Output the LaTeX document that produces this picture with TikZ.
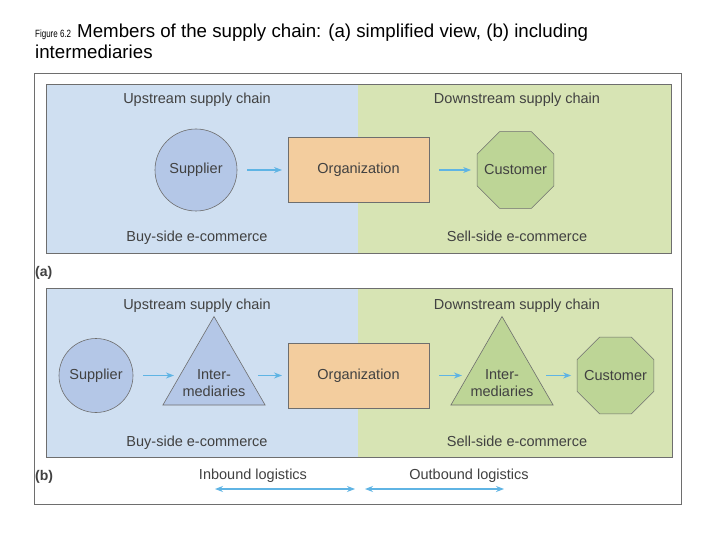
\documentclass[tikz,border=0pt]{standalone}
\usepackage{fontspec}
\setmainfont{Liberation Sans}
\usetikzlibrary{shapes.geometric,arrows.meta}
\definecolor{upblue}{RGB}{207,223,241}
\definecolor{downgreen}{RGB}{215,228,180}
\definecolor{supblue}{RGB}{180,199,231}
\definecolor{orgorange}{RGB}{243,205,158}
\definecolor{custgreen}{RGB}{189,213,150}
\definecolor{flowblue}{RGB}{95,180,228}
\definecolor{txtgray}{RGB}{65,65,65}
\definecolor{linegray}{RGB}{110,110,110}
\begin{document}
\begin{tikzpicture}[x=1pt,y=-1pt,
  lbl/.style={text=txtgray,font=\fontsize{14.5}{17}\selectfont,inner sep=0pt,anchor=base},
  tag/.style={font=\bfseries\fontsize{14}{16}\selectfont,text=txtgray,inner sep=0pt,anchor=base west},
  shapetxt/.style={text=txtgray,font=\fontsize{14.5}{17}\selectfont,inner sep=0pt,outer sep=0pt,align=center},
  supplier/.style={shapetxt,circle,draw=linegray,line width=0.6pt,fill=supblue},
  org/.style={shapetxt,rectangle,draw=linegray,line width=0.6pt,fill=orgorange,minimum width=141pt,minimum height=65pt},
  customer/.style={regular polygon,regular polygon sides=8,minimum size=83pt,inner sep=0pt,outer sep=0pt,draw=linegray,line width=0.6pt,fill=custgreen},
  middle/.style={regular polygon,regular polygon sides=3,minimum size=118pt,inner sep=0pt,outer sep=0pt,draw=linegray,line width=0.6pt},
  flow/.style={-{Stealth[length=8pt,width=6pt]},draw=flowblue,line width=1.2pt,shorten <=10pt,shorten >=6pt},
  logi/.style={{Stealth[length=8pt,width=6pt]}-{Stealth[length=8pt,width=6pt]},draw=flowblue,line width=1.2pt}]
\useasboundingbox (0,0) rectangle (720,540);
\fill[white] (0,0) rectangle (720,540);

% title
\node[anchor=base west,inner sep=0pt,font=\fontsize{10.5}{12}\selectfont] (fignum) at (35,38) {\scalebox{0.76}[1]{Figure 6.2}};
\node[anchor=base west,inner sep=0pt,font=\fontsize{18.7}{22}\selectfont] (title1) at (77,38) {Members of the supply chain: (a) simplified view, (b) including};
\node[anchor=base west,inner sep=0pt,font=\fontsize{18.7}{22}\selectfont] (title2) at (35,59) {intermediaries};

\draw[linegray,line width=0.8pt] (34,73) rectangle (681,504);

% (a) simplified view
\fill[upblue] (46,84) rectangle (358,253);
\fill[downgreen] (358,84) rectangle (671,253);
\draw[linegray,line width=0.6pt] (46,84) rectangle (671,253);
\node[lbl] (upA) at (197,104) {Upstream supply chain};
\node[lbl] (downA) at (517,104) {Downstream supply chain};
\node[supplier,minimum size=82pt] (supA) at (196,170) {Supplier};
\node[org] (orgA) at (358.5,170) {Organization};
\node[customer] (custA) at (515.5,170) {};
\node[shapetxt] (custAtxt) at (515.5,170) {Customer};
\draw[flow] (supA) -- (orgA);
\draw[flow] (orgA) -- (custA);
\node[lbl] (buyA) at (197,241) {Buy-side e-commerce};
\node[lbl] (sellA) at (517,241) {Sell-side e-commerce};
\node[tag] (tagA) at (35,276) {(a)};

% (b) including intermediaries
\fill[upblue] (46,288) rectangle (358,457);
\fill[downgreen] (358,288) rectangle (672,457);
\draw[linegray,line width=0.6pt] (46,288) rectangle (672,457);
\node[lbl] (upB) at (197,309) {Upstream supply chain};
\node[lbl] (downB) at (517,309) {Downstream supply chain};
\node[supplier,minimum size=74pt] (supB) at (96,375.5) {Supplier};
\node[middle,fill=supblue] (midB) at (214,375.5) {};
\node[shapetxt] (midBtxt) at (214,383) {Inter-\\mediaries};
\node[org] (orgB) at (358.5,375.5) {Organization};
\node[middle,fill=custgreen] (midC) at (502,375.5) {};
\node[shapetxt] (midCtxt) at (502,383) {Inter-\\mediaries};
\node[customer] (custB) at (615.5,375.5) {};
\node[shapetxt] (custBtxt) at (615.5,375.5) {Customer};
\draw[flow] (supB) -- (midB);
\draw[flow] (midB) -- (orgB);
\draw[flow] (orgB) -- (midC);
\draw[flow] (midC) -- (custB);
\node[lbl] (buyB) at (197,446) {Buy-side e-commerce};
\node[lbl] (sellB) at (517,446) {Sell-side e-commerce};
\node[tag] (tagB) at (35,480) {(b)};

% logistics
\node[lbl] (inbound) at (253,479) {Inbound logistics};
\node[lbl] (outbound) at (469,479) {Outbound logistics};
\coordinate (inL) at (215,489);
\coordinate (inR) at (355,489);
\coordinate (outL) at (365,489);
\coordinate (outR) at (504,489);
\draw[logi] (inL) -- (inR);
\draw[logi] (outL) -- (outR);
\end{tikzpicture}
\end{document}
